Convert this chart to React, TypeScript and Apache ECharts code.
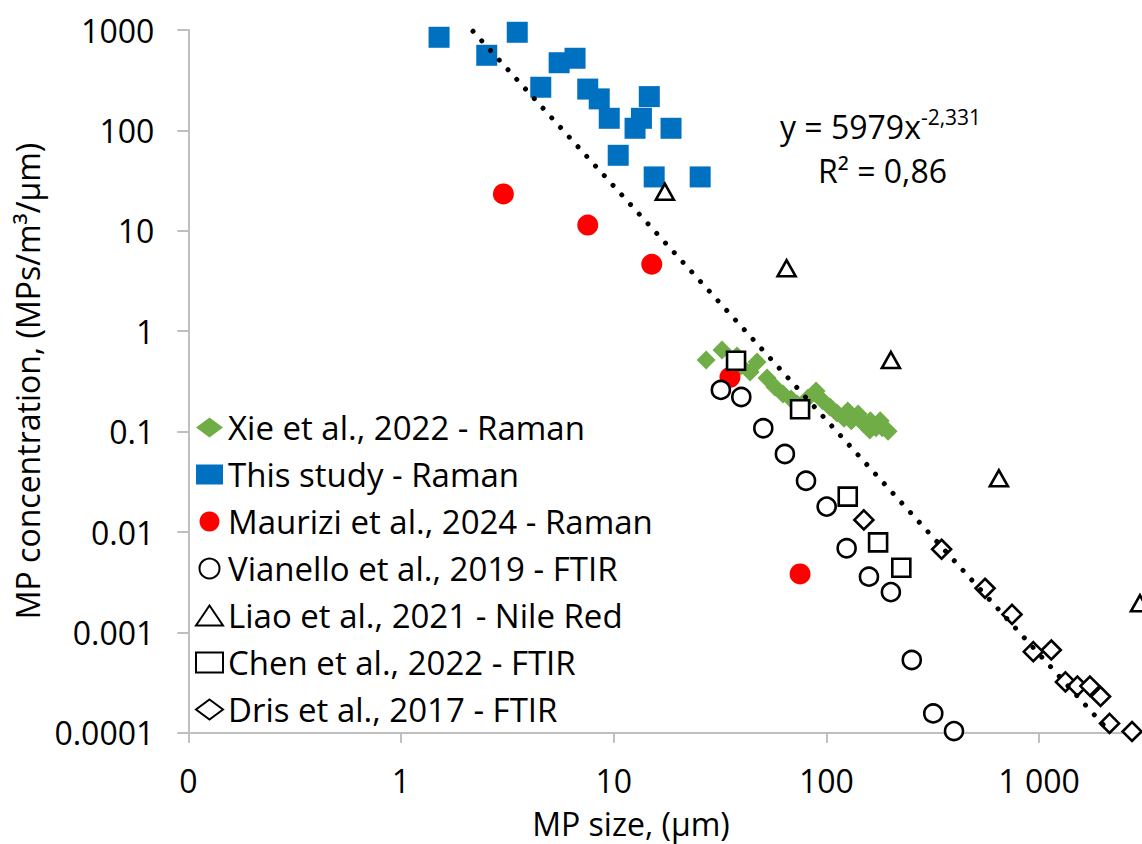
import React, { useEffect, useRef } from 'react';
import * as echarts from 'echarts';

// ---- data (MP size in µm, concentration in MPs/m3/µm) ----
const xieSize = [27.2, 32.3, 38.0, 39.6, 43.8, 47.2, 52.6, 57.3, 62.5, 68.2, 72.8, 82.0, 89.4, 96.4, 104, 112, 121, 126, 131, 141, 150, 160, 161, 171, 179, 183, 195];
const xieConc = [0.516, 0.65, 0.566, 0.45, 0.392, 0.493, 0.342, 0.278, 0.237, 0.211, 0.188, 0.216, 0.254, 0.202, 0.176, 0.153, 0.136, 0.16, 0.128, 0.15, 0.119, 0.104, 0.128, 0.109, 0.128, 0.109, 0.101];

const studySize = [1.51, 2.53, 3.52, 4.54, 5.54, 6.58, 7.55, 8.55, 9.53, 10.5, 12.6, 13.5, 14.7, 15.5, 18.6, 25.5];
const studyConc = [846, 560, 949, 269, 472, 523, 258, 206, 132, 56.5, 105, 132, 217, 34.4, 105, 34.4];

const mauriziSize = [3.03, 7.55, 15.1, 35.2, 75.2];
const mauriziConc = [23.3, 11.4, 4.64, 0.347, 0.00382];

const vianelloSize = [31.9, 39.8, 50.5, 63.8, 80.2, 100.3, 124.5, 158.5, 201, 252, 318, 398];
const vianelloConc = [0.26, 0.221, 0.108, 0.0598, 0.0324, 0.0179, 0.00689, 0.00359, 0.00252, 0.000531, 0.000156, 0.000104];

const liaoSize = [17.4, 65.0, 201, 647, 2980];
const liaoConc = [24.5, 4.23, 0.516, 0.0343, 0.00195];

const chenSize = [37.6, 75.2, 126, 175, 225];
const chenConc = [0.508, 0.167, 0.0225, 0.00789, 0.00441];

const drisSize = [150, 348, 557, 746, 939, 1141, 1330, 1514, 1734, 1945, 2144, 2735];
const drisConc = [0.0132, 0.00673, 0.00275, 0.00151, 0.000643, 0.000668, 0.000321, 0.000292, 0.000292, 0.00023, 0.000124, 0.000103];

// power trendline end points (y = 5979x^-2,331)
const trendSize = [2.18, 2050];
const trendConc = [972, 0.000114];

const seriesNames = [
  'Xie et al., 2022 - Raman',
  'This study - Raman',
  'Maurizi et al., 2024 - Raman',
  'Vianello et al., 2019 - FTIR',
  'Liao et al., 2021 - Nile Red',
  'Chen et al., 2022 - FTIR',
  'Dris et al., 2017 - FTIR',
];

// ticks 0.1 .. 10000 (the 10 000 tick lies outside the visible picture)
const xTickLabels = ['0', '1', '10', '100', '1 000', ''];
const yTickLabels = ['1000', '100', '10', '1', '0.1', '0.01', '0.001', '0.0001'];

const FONT = '"Open Sans", sans-serif';

const zip = (xs: number[], ys: number[]) => xs.map((x, i) => [x, ys[i]]);

export default function App() {
  const ref = useRef<HTMLDivElement>(null);

  useEffect(() => {
    if (!ref.current) return;
    const chart = echarts.init(ref.current, null, { renderer: 'svg' });
    const open = { color: '#ffffff', borderColor: '#000000', borderWidth: 2.6, opacity: 1 };
    const axisGray = '#bfbfbf';

    chart.setOption({
      animation: false,
      backgroundColor: '#ffffff',
      textStyle: { fontFamily: FONT },
      grid: {
        left: 188.3,
        top: 30,
        width: 1063.5,
        height: 702.8,
        containLabel: false,
        outerBoundsMode: 'none',
      },
      xAxis: {
        type: 'log',
        logBase: 10,
        min: 0.1,
        max: 10000,
        axisLine: { show: true, lineStyle: { color: axisGray, width: 2 } },
        axisTick: { show: true, length: 10, lineStyle: { color: axisGray, width: 2 } },
        splitLine: { show: false },
        minorTick: { show: false },
        minorSplitLine: { show: false },
        axisLabel: {
          fontSize: 32,
          color: '#000',
          fontFamily: FONT,
          margin: 32,
          formatter: (v: number) => xTickLabels[Math.round(Math.log10(v)) + 1] ?? '',
        },
      },
      yAxis: {
        type: 'log',
        logBase: 10,
        min: 0.0001,
        max: 1000,
        axisLine: { show: true, lineStyle: { color: axisGray, width: 2 } },
        axisTick: { show: true, length: 11, lineStyle: { color: axisGray, width: 2 } },
        splitLine: { show: false },
        minorTick: { show: false },
        minorSplitLine: { show: false },
        axisLabel: {
          fontSize: 32,
          color: '#000',
          fontFamily: FONT,
          margin: 34,
          formatter: (v: number) => yTickLabels[3 - Math.round(Math.log10(v))] ?? '',
        },
      },
      legend: {
        data: seriesNames,
        orient: 'vertical',
        left: 195,
        top: 411,
        padding: 0,
        itemWidth: 27,
        itemHeight: 20,
        itemGap: 14,
        textStyle: { fontSize: 33, lineHeight: 32, color: '#000', fontFamily: FONT },
      },
      series: [
        {
          name: seriesNames[0],
          type: 'scatter',
          symbol: 'diamond',
          symbolSize: 19,
          itemStyle: { color: '#70AD47', opacity: 1 },
          data: zip(xieSize, xieConc),
        },
        {
          name: seriesNames[1],
          type: 'scatter',
          symbol: 'rect',
          symbolSize: 21,
          itemStyle: { color: '#0070C0', opacity: 1 },
          data: zip(studySize, studyConc),
        },
        {
          name: seriesNames[2],
          type: 'scatter',
          symbol: 'circle',
          symbolSize: 21,
          itemStyle: { color: '#FF0000', opacity: 1 },
          data: zip(mauriziSize, mauriziConc),
        },
        {
          name: seriesNames[3],
          type: 'scatter',
          symbol: 'circle',
          symbolSize: 18,
          itemStyle: open,
          data: zip(vianelloSize, vianelloConc),
        },
        {
          name: seriesNames[4],
          type: 'scatter',
          symbol: 'triangle',
          symbolSize: [18, 16],
          itemStyle: open,
          data: zip(liaoSize, liaoConc),
        },
        {
          name: seriesNames[5],
          type: 'scatter',
          symbol: 'rect',
          symbolSize: 18,
          itemStyle: open,
          data: zip(chenSize, chenConc),
        },
        {
          name: seriesNames[6],
          type: 'scatter',
          symbol: 'diamond',
          symbolSize: 19,
          itemStyle: open,
          data: zip(drisSize, drisConc),
        },
        {
          name: 'Power trend',
          type: 'line',
          symbol: 'none',
          z: 5,
          silent: true,
          lineStyle: { color: '#000', width: 5, type: [0.01, 13], cap: 'round', opacity: 1 },
          data: zip(trendSize, trendConc),
        },
      ],
      graphic: [
        {
          type: 'text',
          x: 780,
          y: 126,
          style: {
            text: '{a|y = 5979x}{b|-2,331}',
            verticalAlign: 'middle',
            fill: '#000',
            rich: {
              a: { fontSize: 32, lineHeight: 40, fontFamily: FONT, fill: '#000' },
              b: { fontSize: 21, lineHeight: 22, fontFamily: FONT, verticalAlign: 'top', fill: '#000' },
            },
          },
        },
        {
          type: 'text',
          x: 818,
          y: 170,
          style: { text: 'R² = 0,86', fontSize: 32, fontFamily: FONT, fill: '#000', verticalAlign: 'middle' },
        },
        {
          type: 'text',
          x: 631,
          y: 823,
          style: {
            text: 'MP size, (μm)',
            fontSize: 32,
            lineHeight: 34,
            fontFamily: FONT,
            fill: '#000',
            align: 'center',
            verticalAlign: 'middle',
          },
        },
        {
          type: 'text',
          x: 27,
          y: 381,
          rotation: Math.PI / 2,
          style: {
            text: 'MP concentration, (MPs/m³/μm)',
            fontSize: 32,
            fontFamily: FONT,
            fill: '#000',
            align: 'center',
            verticalAlign: 'middle',
          },
        },
      ],
    });

    return () => chart.dispose();
  }, []);

  return (
    <div
      ref={ref}
      style={{ position: 'fixed', left: 0, top: 0, width: 1142, height: 844, overflow: 'hidden', background: '#fff' }}
    />
  );
}
